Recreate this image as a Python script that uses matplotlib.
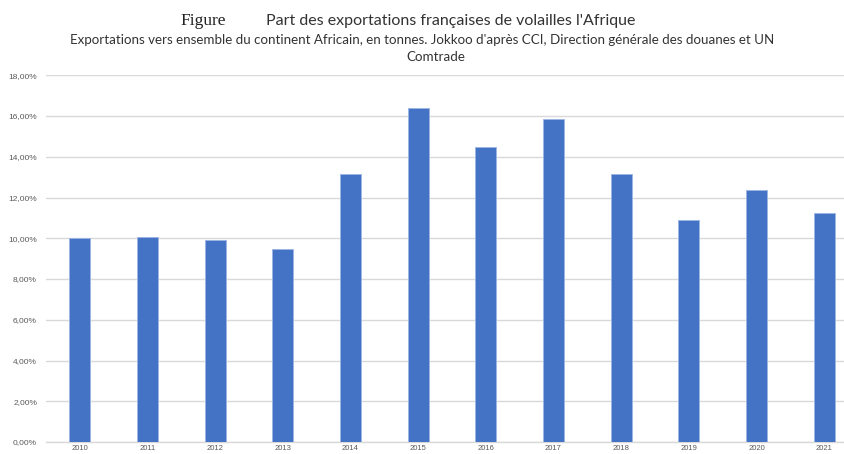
import matplotlib.pyplot as plt
import numpy as np

# ── données ─────────────────────────────────────────────────────────────────
years = ["2010", "2011", "2012", "2013", "2014", "2015",
         "2016", "2017", "2018", "2019", "2020", "2021"]
share = [10.00, 10.05, 9.90, 9.45, 13.16, 16.39,
         14.50, 15.84, 13.16, 10.90, 12.37, 11.22]
y_ticks = [0, 2, 4, 6, 8, 10, 12, 14, 16, 18]

title_main = "Part des exportations françaises de volailles l'Afrique"
subtitle_1 = ("Exportations vers ensemble du continent Africain, en tonnes. "
              "Jokkoo d'après CCI, Direction générale des douanes et UN")
subtitle_2 = "Comtrade"

BAR = "#4472C4"
GRID = "#d9d9d9"
TXT = "#595959"

# ── figure ──────────────────────────────────────────────────────────────────
fig = plt.figure(figsize=(8.45, 4.54), dpi=100, facecolor="white")
ax = fig.add_axes([46 / 845, 12 / 454, 812 / 845, 366.7 / 454])

x = np.arange(len(years))
ax.bar(x, share, width=0.31, color=BAR, edgecolor="#9db5e3",
       linewidth=0.7, zorder=3)

ax.set_xlim(-0.5, len(years) - 0.5)
ax.set_ylim(0, 18)
ax.set_yticks(y_ticks)
ax.set_yticklabels([f"{v:.2f}%".replace(".", ",") for v in y_ticks],
                   fontsize=6, color=TXT, family="Liberation Sans")
ax.set_xticks(x)
ax.set_xticklabels(years, fontsize=5.5, color=TXT, family="Liberation Sans")
ax.tick_params(axis="both", length=0)
ax.tick_params(axis="y", pad=6.5)
ax.tick_params(axis="x", pad=2.5)

ax.yaxis.grid(True, color=GRID, linewidth=1.0, zorder=0)
for s in ["top", "right", "left"]:
    ax.spines[s].set_visible(False)
ax.spines["bottom"].set_color(GRID)
ax.spines["bottom"].set_linewidth(1.0)

# ── titres ──────────────────────────────────────────────────────────────────
fig.text(203 / 845, 1 - 21 / 454, "Figure", ha="center", va="center",
         fontsize=12.5, family="Liberation Serif", color="#222222")
fig.text(451 / 845, 1 - 21 / 454, title_main, ha="center", va="center",
         fontsize=11.5, family="Lato", color="#333333")
fig.text(422 / 845, 1 - 40 / 454, subtitle_1, ha="center", va="center",
         fontsize=9.6, family="Lato", color="#333333")
fig.text(436 / 845, 1 - 57 / 454, subtitle_2, ha="center", va="center",
         fontsize=9.6, family="Lato", color="#333333")

plt.savefig("out.png", dpi=100, facecolor=fig.get_facecolor())
